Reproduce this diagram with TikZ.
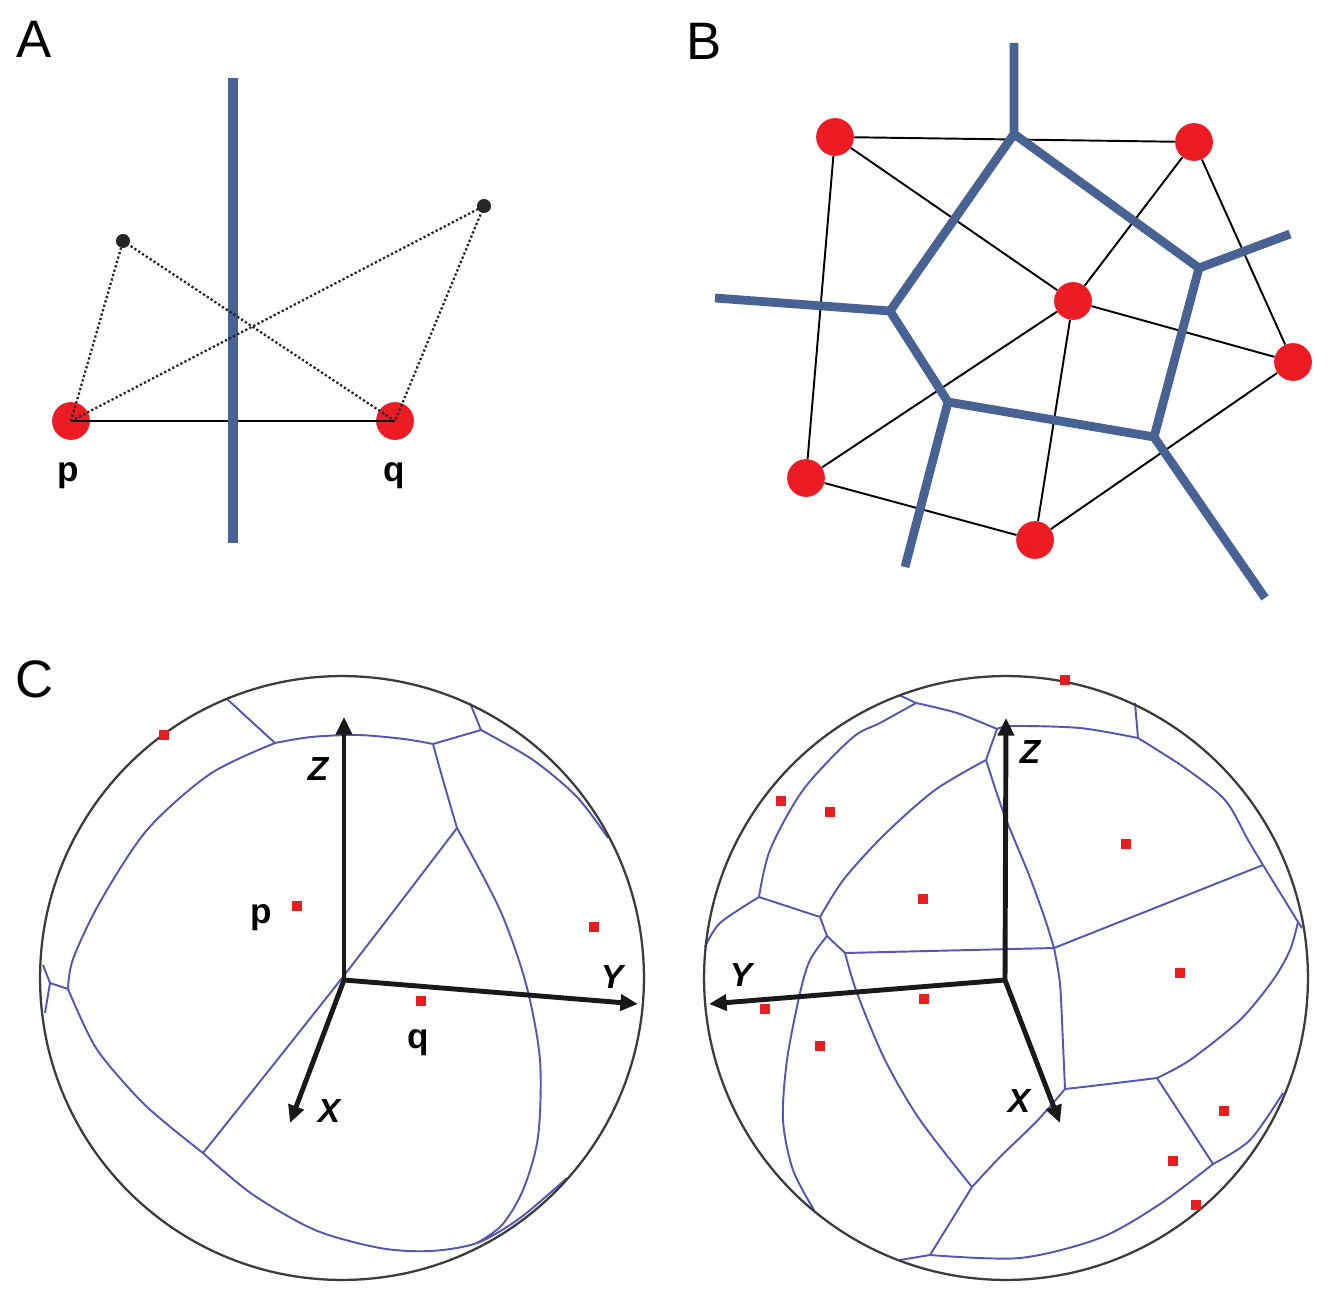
\documentclass[tikz,border=0pt]{standalone}
\usepackage{fontspec}
\setmainfont{Liberation Sans}
\usetikzlibrary{arrows.meta}
\definecolor{vblue}{RGB}{72,98,148}
\definecolor{vred}{RGB}{237,28,36}
\definecolor{cblue}{RGB}{85,85,180}
\definecolor{sred}{RGB}{230,30,30}
\definecolor{rimgray}{RGB}{60,60,60}
\begin{document}
\begin{tikzpicture}[x=0.02cm,y=-0.02cm,
  panel/.style={font=\fontsize{30}{30}\selectfont, inner sep=0pt},
  ptlabel/.style={font=\fontsize{20}{20}\selectfont\bfseries, inner sep=0pt},
  axlabel/.style={font=\fontsize{19}{19}\selectfont\bfseries\itshape, inner sep=0pt},
  site/.style={circle, fill=vred, draw=none, inner sep=0pt, minimum size=21.5pt},
  bdot/.style={circle, fill=black!85, draw=none, inner sep=0pt, minimum size=8pt},
  sq/.style={rectangle, fill=sred, draw=none, inner sep=0pt, minimum size=5.5pt},
  vor/.style={draw=vblue, line width=5pt, line join=round},
  del/.style={draw=black, line width=1.1pt},
  dotline/.style={draw=black!85, line width=1.3pt, dash pattern=on 1.3pt off 1.3pt},
  cell/.style={draw=cblue, line width=1.1pt, line join=round},
  rimline/.style={draw=rimgray, line width=1.3pt},
  axis/.style={draw=black!90, line width=2.8pt, -{Triangle[length=10pt,width=9pt]}}]
\useasboundingbox (0,0) rectangle (1328,1294);

% ---------------- Panel A ----------------
\node[panel] (labA) at (34,39) {A};
\node[site] (p) at (71,421) {};
\node[site] (q) at (395,421) {};
\draw[line width=1.5pt] (p.center) -- (q.center);
\coordinate (at) at (233,78);
\coordinate (ab) at (233,543);
\draw[vor, line width=6pt] (at) -- (ab);
\node[bdot] (d1) at (123,241) {};
\node[bdot] (d2) at (484,206) {};
\draw[dotline] (p.center) -- (d1.center);
\draw[dotline] (d1.center) -- (q.center);
\draw[dotline] (p.center) -- (d2.center);
\draw[dotline] (d2.center) -- (q.center);
\node[ptlabel] (plab) at (68,476) {p};
\node[ptlabel] (qlab) at (394,476) {q};

% ---------------- Panel B ----------------
\node[panel] (labB) at (704,41) {B};
\node[site] (b1) at (835,137) {};
\node[site] (b2) at (1194,142) {};
\node[site] (b3) at (1073,301) {};
\node[site] (b4) at (1293,362) {};
\node[site] (b5) at (806,478) {};
\node[site] (b6) at (1035,540) {};
\draw[del] (b1) -- (b2);
\draw[del] (b1) -- (b5);
\draw[del] (b1) -- (b3);
\draw[del] (b2) -- (b3);
\draw[del] (b2) -- (b4);
\draw[del] (b3) -- (b4);
\draw[del] (b3) -- (b5);
\draw[del] (b3) -- (b6);
\draw[del] (b5) -- (b6);
\draw[del] (b6) -- (b4);
\coordinate (v1) at (1014,134);
\coordinate (v2) at (890,311);
\coordinate (v3) at (1199,268);
\coordinate (v4) at (948,402);
\coordinate (v5) at (1154,437);
\coordinate (e1) at (1014,43);
\coordinate (e2) at (715,298);
\coordinate (e3) at (1290,234);
\coordinate (e4) at (905,567);
\coordinate (e5) at (1265,598);
\draw[vor] (e1) -- (v1) -- (v2) -- (e2);
\draw[vor] (v1) -- (v3) -- (e3);
\draw[vor] (v2) -- (v4) -- (v5) -- (v3);
\draw[vor] (v4) -- (e4);
\draw[vor] (v5) -- (e5);

% ---------------- Panel C ----------------
\node[panel] (labC) at (35,679) {C};

% left sphere
\coordinate (Lc) at (342,978);
\coordinate (LA) at (275,743);
\coordinate (LB) at (433,744);
\coordinate (LC) at (481,730);
\coordinate (LD) at (457,828);
\coordinate (LE) at (203,1153);
\coordinate (LF) at (68,989);
\coordinate (LF2) at (50,983);
\coordinate (LV) at (477,1243);
\coordinate (Lt1) at (227,699);
\coordinate (Lt2) at (470,703);
\coordinate (Lr) at (608,838);
\coordinate (Ll1) at (43,965);
\coordinate (Ll2) at (45,1013);
\coordinate (Lb) at (567,1178);
\draw[cell] (Lt1) -- (LA);
\draw[cell] plot[smooth] coordinates {(LA) (311,737) (358,735) (404,739) (LB)};
\draw[cell] (LB) -- (LC) -- (Lt2);
\draw[cell] plot[smooth] coordinates {(LC) (533,760) (577,797) (Lr)};
\draw[cell] plot[smooth] coordinates {(LB) (443,780) (LD)};
\draw[cell] plot[smooth] coordinates {(LD) (Lc) (LE)};
\draw[cell] plot[smooth] coordinates {(LD) (500,910) (526,984) (540,1060) (538,1137) (523,1190) (502,1225) (LV)};
\draw[cell] plot[smooth] coordinates {(LA) (210,774) (147,830) (100,902) (73,959) (LF)};
\draw[cell] (LF) -- (LF2) -- (Ll1);
\draw[cell] (LF2) -- (Ll2);
\draw[cell] plot[smooth] coordinates {(LF) (96,1048) (138,1098) (168,1125) (LE)};
\draw[cell] plot[smooth] coordinates {(LE) (252,1194) (315,1230) (380,1248) (430,1251) (LV) (520,1218) (Lb)};
\draw[rimline] (Lc) circle[radius=6.04cm];
\coordinate (Lax) at (344,980);
\coordinate (LZ) at (344,717);
\coordinate (LY) at (638,1004);
\coordinate (LX) at (290,1123);
\draw[axis] (Lax) -- (LZ);
\draw[axis] (Lax) -- (LY);
\draw[axis] (Lax) -- (LX);
\node[axlabel] (LZl) at (318,769) {Z};
\node[axlabel] (LYl) at (612,977) {Y};
\node[axlabel] (LXl) at (329,1111) {X};
\node[ptlabel] (Lpl) at (261,918) {p};
\node[ptlabel] (Lql) at (418,1043) {q};
\node[sq] (Ls1) at (164,735) {};
\node[sq] (Ls2) at (297,906) {};
\node[sq] (Ls3) at (594,927) {};
\node[sq] (Ls4) at (421,1001) {};

% right sphere
\coordinate (Rc) at (1006,978);
\coordinate (RG) at (916,703);
\coordinate (RH) at (997,729);
\coordinate (RK) at (986,760);
\coordinate (RJ) at (1138,738);
\coordinate (RO) at (1263,865);
\coordinate (RU) at (1298,922);
\coordinate (RP) at (1157,1078);
\coordinate (RR) at (1213,1164);
\coordinate (RS) at (930,1255);
\coordinate (RT) at (972,1187);
\coordinate (RQ) at (1065,1089);
\coordinate (RM) at (1054,948);
\coordinate (RN1) at (827,936);
\coordinate (RN2) at (845,953);
\coordinate (RL) at (820,917);
\coordinate (RI) at (759,897);
\coordinate (Rt1) at (899,695);
\coordinate (Rt2) at (1135,703);
\coordinate (Ru) at (1302,928);
\coordinate (Rr) at (1283,1093);
\coordinate (Rs) at (900,1260);
\coordinate (Rbl) at (814,1210);
\coordinate (Rl) at (705,947);
\draw[cell] (RG) -- (Rt1);
\draw[cell] plot[smooth] coordinates {(RG) (957,713) (RH)};
\draw[cell] plot[smooth] coordinates {(RG) (880,723) (852,738) (803,790) (770,850) (RI)};
\draw[cell] (RH) -- (RK);
\draw[cell] plot[smooth] coordinates {(RH) (1013,726) (1080,728) (RJ)};
\draw[cell] (RJ) -- (Rt2);
\draw[cell] plot[smooth] coordinates {(RJ) (1185,768) (1225,800) (1248,840) (RO)};
\draw[cell] (RO) -- (RU) -- (Ru);
\draw[cell] plot[smooth] coordinates {(RU) (1290,950) (1273,980) (1240,1020) (1190,1060) (RP)};
\draw[cell] (RO) -- (RM);
\draw[cell] plot[smooth] coordinates {(RK) (935,790) (885,834) (844,879) (RL)};
\draw[cell] plot[smooth] coordinates {(RK) (1004,814) (1029,875) (1045,919) (RM)};
\draw[cell] (RI) -- (RL) -- (RN1) -- (RN2) -- (RM);
\draw[cell] plot[smooth] coordinates {(RI) (720,923) (Rl)};
\draw[cell] plot[smooth] coordinates {(RN1) (810,960) (800,993) (787,1060) (783,1120) (793,1170) (Rbl)};
\draw[cell] plot[smooth] coordinates {(RN2) (857,993) (885,1060) (920,1120) (RT)};
\draw[cell] plot[smooth] coordinates {(RM) (1060,984) (1063,1044) (RQ)};
\draw[cell] plot[smooth] coordinates {(RQ) (1100,1085) (RP)};
\draw[cell] plot[smooth] coordinates {(RQ) (1037,1121) (1000,1157) (RT)};
\draw[cell] (RT) -- (RS) -- (Rs);
\draw[cell] plot[smooth] coordinates {(RS) (1020,1258) (1100,1238) (1160,1204) (RR)};
\draw[cell] (RP) -- (RR);
\draw[cell] plot[smooth] coordinates {(RR) (1250,1140) (Rr)};
\draw[rimline] (Rc) circle[radius=6.04cm];
\coordinate (Rax) at (1005,980);
\coordinate (RZ) at (1006,718);
\coordinate (RY) at (709,1004);
\coordinate (RX) at (1060,1123);
\draw[axis] (Rax) -- (RZ);
\draw[axis] (Rax) -- (RY);
\draw[axis] (Rax) -- (RX);
\node[axlabel] (RZl) at (1030,752) {Z};
\node[axlabel] (RYl) at (741,975) {Y};
\node[axlabel] (RXl) at (1019,1101) {X};
\node[sq] (Rs1) at (1065,680) {};
\node[sq] (Rs2) at (781,801) {};
\node[sq] (Rs3) at (830,812) {};
\node[sq] (Rs4) at (1126,844) {};
\node[sq] (Rs5) at (923,899) {};
\node[sq] (Rs6) at (1180,973) {};
\node[sq] (Rs7) at (924,999) {};
\node[sq] (Rs8) at (765,1009) {};
\node[sq] (Rs9) at (820,1046) {};
\node[sq] (Rs10) at (1224,1111) {};
\node[sq] (Rs11) at (1173,1161) {};
\node[sq] (Rs12) at (1196,1205) {};
\end{tikzpicture}
\end{document}
